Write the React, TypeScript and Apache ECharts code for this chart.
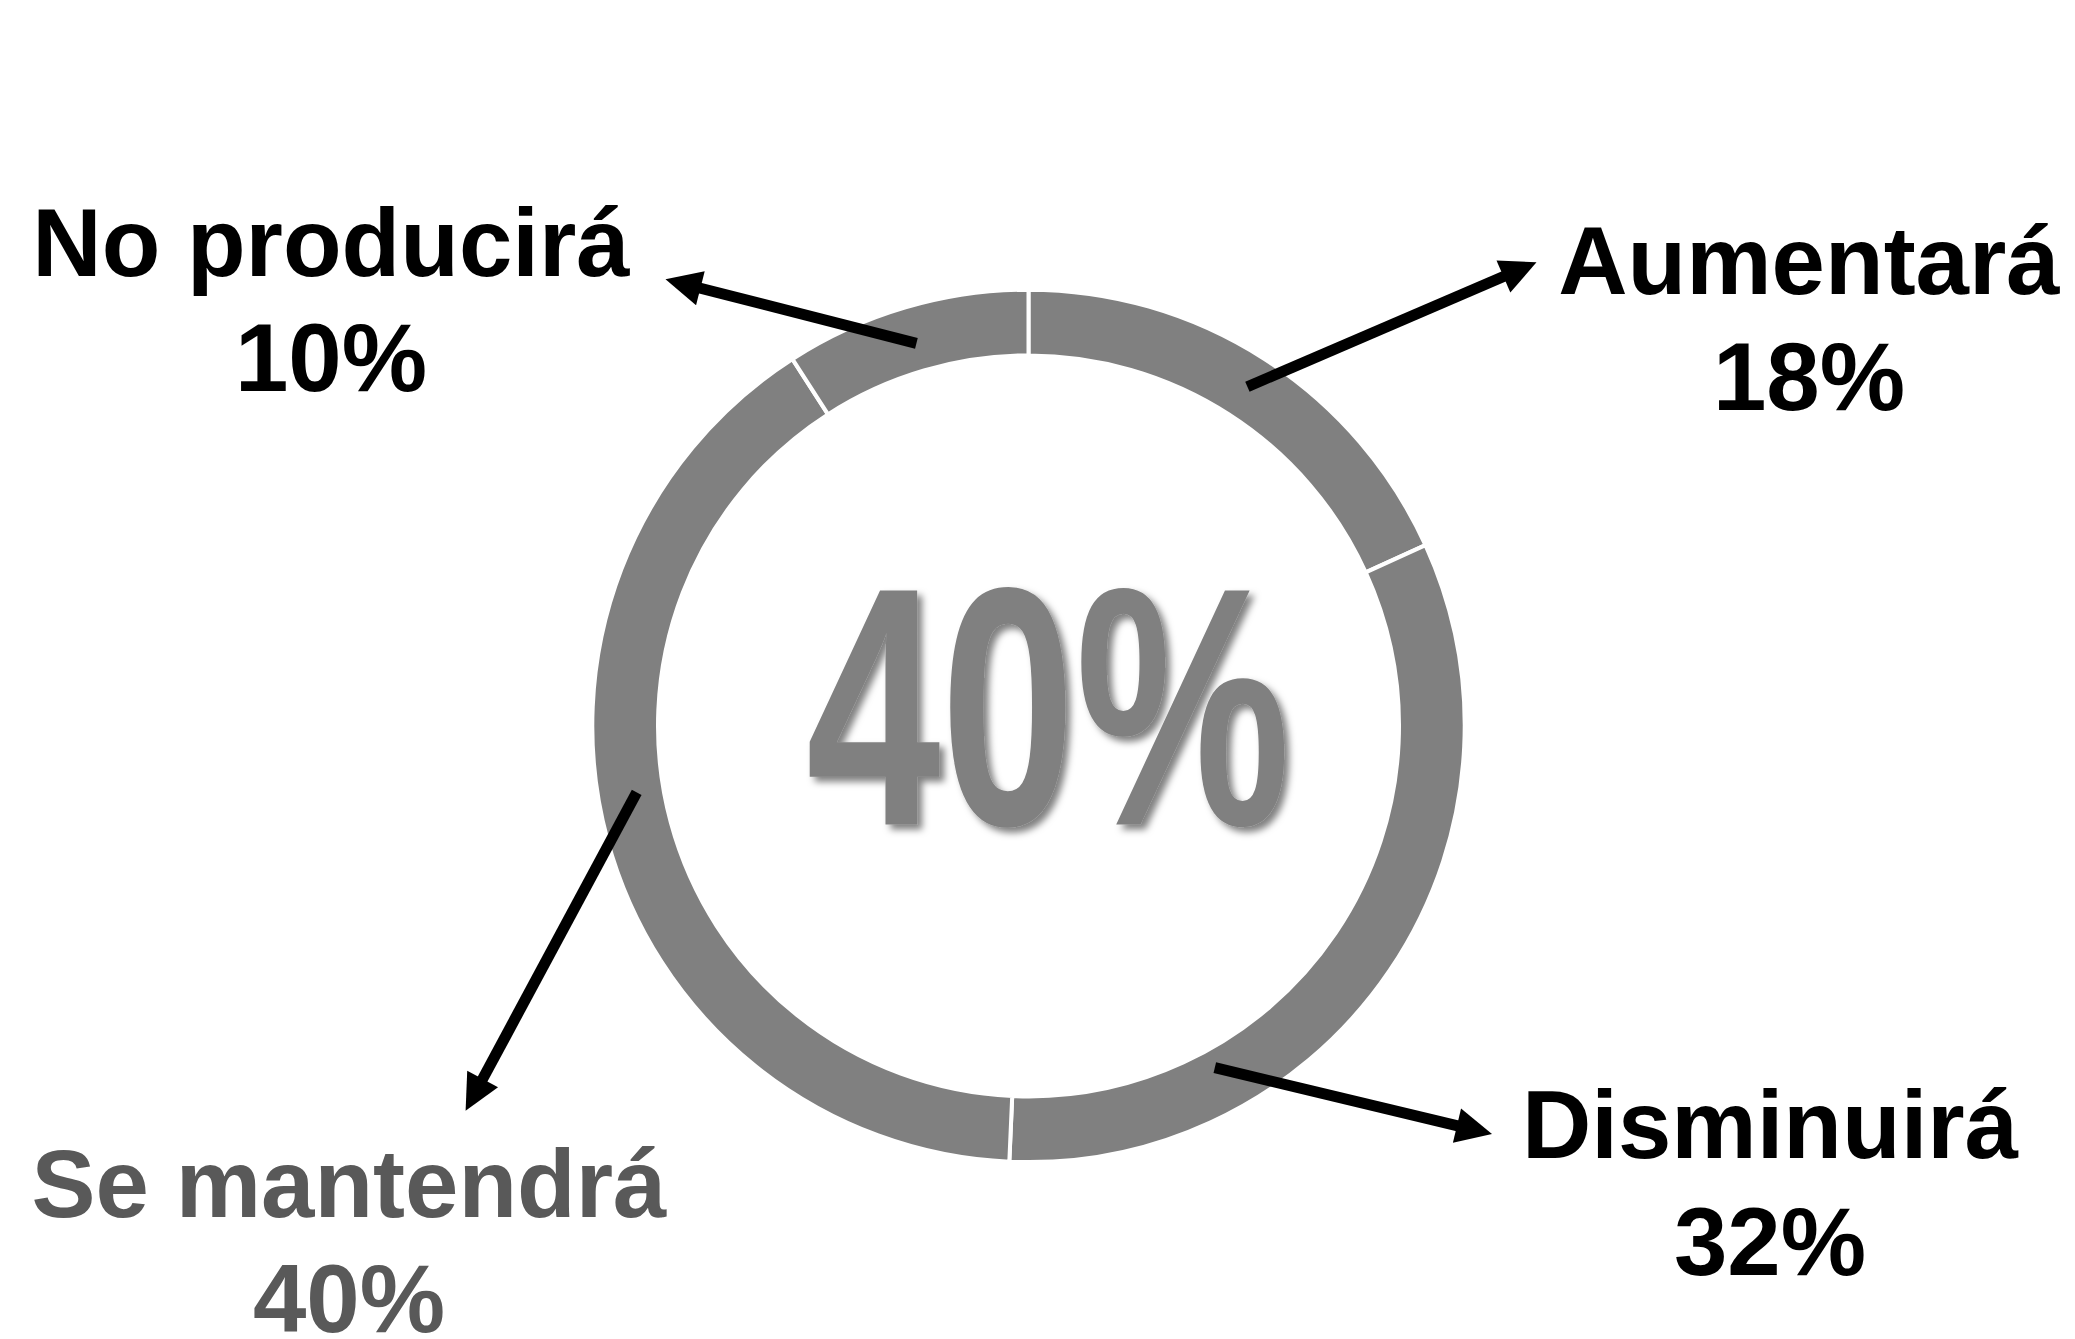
import React, { useEffect, useRef } from "react";
import * as echarts from "echarts";

// ---- Data ----
const categories = ["Aumentará", "Disminuirá", "Se mantendrá", "No producirá"];
// Percentages printed in the labels
const labelPercents = [18, 32, 40, 10];
const sliceShares = [18.2, 32.5, 40.2, 9.1];
// Which category is highlighted in the centre
const highlightIndex = 2;

// ---- Layout / style (annotations) ----
const W = 2075;
const H = 1339;
const RING_CENTER = [1028.5, 725.9];
const RING_RADIUS = [370.5, 436.2];
const RING_COLOR = "#808080";

const labelAnchors = [
  { x: 1809, yName: 260, yPct: 376, color: "#000000" },
  { x: 1770, yName: 1124, yPct: 1241, color: "#000000" },
  { x: 349, yName: 1183.4, yPct: 1298.4, color: "#595959" },
  { x: 331, yName: 242.4, yPct: 357.4, color: "#000000" },
];

const arrows = [
  { tail: [1247.4, 386.7], tip: [1536.5, 262.3] },
  { tail: [1214.8, 1067.7], tip: [1492, 1134] },
  { tail: [636.7, 792.3], tip: [465.6, 1110.7] },
  { tail: [916.4, 343.3], tip: [665.5, 279.3] },
];
const ARROW_WIDTH = 11;
const HEAD_LEN = 36;
const HEAD_W = 35;

const LABEL_FONT = "'Liberation Sans', Arial, sans-serif";

function arrowGraphics() {
  const out: any[] = [];
  arrows.forEach((a) => {
    const [x0, y0] = a.tail;
    const [x1, y1] = a.tip;
    const dx = x1 - x0;
    const dy = y1 - y0;
    const len = Math.sqrt(dx * dx + dy * dy);
    const ux = dx / len;
    const uy = dy / len;
    const nx = -uy;
    const ny = ux;
    const bx = x1 - ux * HEAD_LEN;
    const by = y1 - uy * HEAD_LEN;
    out.push({
      type: "line",
      z: 10,
      silent: true,
      shape: { x1: x0, y1: y0, x2: bx + ux * 4, y2: by + uy * 4 },
      style: { stroke: "#000000", lineWidth: ARROW_WIDTH, lineCap: "butt" },
    });
    out.push({
      type: "polygon",
      z: 11,
      silent: true,
      shape: {
        points: [
          [x1, y1],
          [bx + (nx * HEAD_W) / 2, by + (ny * HEAD_W) / 2],
          [bx - (nx * HEAD_W) / 2, by - (ny * HEAD_W) / 2],
        ],
      },
      style: { fill: "#000000" },
    });
  });
  return out;
}

function textEl(text: string, x: number, y: number, color: string, lineHeight: number) {
  return {
    type: "text",
    z: 12,
    silent: true,
    x,
    y,
    style: {
      text,
      fontSize: 96,
      fontWeight: "bold",
      fontFamily: LABEL_FONT,
      lineHeight,
      fill: color,
      align: "center",
      verticalAlign: "middle",
      textAlign: "center",
      textVerticalAlign: "middle",
    },
  };
}

function labelGraphics() {
  const out: any[] = [];
  categories.forEach((name, i) => {
    const a = labelAnchors[i];
    out.push(textEl(name, a.x, a.yName, a.color, 110));
    out.push(textEl(`${labelPercents[i]}%`, a.x, a.yPct, a.color, 76));
  });
  return out;
}

function centerGraphic() {
  return {
    type: "text",
    z: 9,
    silent: true,
    x: 1048.3,
    y: 707,
    scaleX: 0.712,
    style: {
      text: `${labelPercents[highlightIndex]}%`,
      fontSize: 340,
      fontWeight: "bold",
      fontFamily: LABEL_FONT,
      lineHeight: 300,
      fill: RING_COLOR,
      align: "center",
      verticalAlign: "middle",
      textAlign: "center",
      textVerticalAlign: "middle",
      textShadowColor: "rgba(0,0,0,0.5)",
      textShadowBlur: 7,
      textShadowOffsetX: 5,
      textShadowOffsetY: 5,
    },
  };
}

export default function App() {
  const ref = useRef<HTMLDivElement>(null);

  useEffect(() => {
    if (!ref.current) return;
    const chart = echarts.init(ref.current, undefined, { renderer: "svg" });
    chart.setOption({
      animation: false,
      backgroundColor: "#ffffff",
      series: [
        {
          type: "pie",
          center: RING_CENTER,
          radius: RING_RADIUS,
          startAngle: 90,
          clockwise: true,
          silent: true,
          label: { show: false },
          labelLine: { show: false },
          emphasis: { disabled: true },
          itemStyle: {
            color: RING_COLOR,
            borderColor: "#ffffff",
            borderWidth: 4,
          },
          data: categories.map((name, i) => ({ name, value: sliceShares[i] })),
        },
      ],
      graphic: [centerGraphic(), ...arrowGraphics(), ...labelGraphics()],
    });
    return () => chart.dispose();
  }, []);

  return (
    <div
      ref={ref}
      style={{
        position: "fixed",
        left: 0,
        top: 0,
        width: W,
        height: H,
        background: "#ffffff",
      }}
    />
  );
}
